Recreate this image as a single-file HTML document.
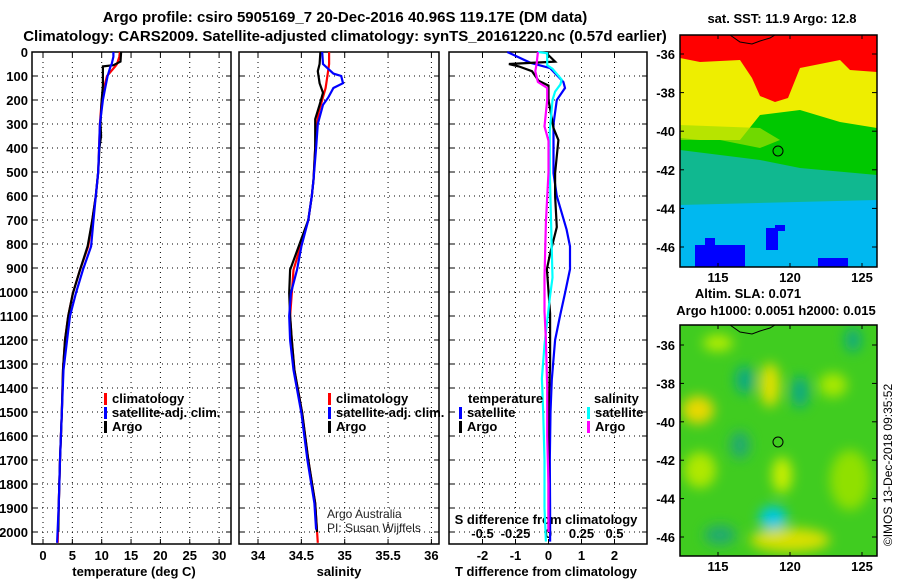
<!DOCTYPE html>
<html><head><meta charset="utf-8"><style>
body{margin:0;background:#fff;}
svg text{font-family:"Liberation Sans",Arial,sans-serif;}
.t{font-weight:bold;font-size:13px;fill:#000;}
.ti{font-weight:bold;font-size:15px;fill:#000;}
</style></head><body>
<svg id="c" width="900" height="580" viewBox="0 0 900 580" xmlns="http://www.w3.org/2000/svg">
<defs>
<filter id="bl" x="-50%" y="-50%" width="200%" height="200%"><feGaussianBlur stdDeviation="6"/></filter>
<clipPath id="cm1"><rect x="680" y="35" width="197" height="232"/></clipPath>
<clipPath id="cm2"><rect x="680" y="325" width="197" height="231"/></clipPath>
</defs>
<text class="ti" x="345" y="22" text-anchor="middle">Argo profile: csiro 5905169_7 20-Dec-2016 40.96S 119.17E (DM data)</text>
<text class="ti" x="345" y="41" text-anchor="middle">Climatology: CARS2009. Satellite-adjusted climatology: synTS_20161220.nc (0.57d earlier)</text>

<!-- top map -->
<g clip-path="url(#cm1)">
<rect x="680" y="35" width="197" height="232" fill="#00b8f0"/>
<polygon points="680,150 877,140 877,200 680,205" fill="#10b890"/>
<polygon points="680,110 877,105 877,175 800,168 760,160 680,150" fill="#00c800"/>
<polygon points="680,35 877,35 877,128 840,122 800,110 760,115 740,140 700,140 680,138" fill="#eeee00"/>
<polygon points="680,35 877,35 877,72 850,70 840,60 800,68 788,98 775,102 760,96 752,78 740,60 700,62 680,58" fill="#ff0000"/>
<polygon points="680,125 760,128 780,140 760,148 720,140 680,140" fill="#a0e000" opacity="0.7"/>
<rect x="695" y="245" width="50" height="22" fill="#0000ff"/>
<rect x="705" y="238" width="10" height="8" fill="#0000ff"/>
<rect x="766" y="228" width="12" height="22" fill="#0000ff"/>
<rect x="775" y="225" width="10" height="6" fill="#0000ff"/>
<rect x="818" y="258" width="30" height="9" fill="#0000ff"/>
<polyline points="730,35 740,42 752,44 760,41 770,38 775,35" fill="none" stroke="#000" stroke-width="1"/>
<circle cx="778" cy="151" r="5" fill="none" stroke="#000" stroke-width="1"/>
</g>
<rect x="680" y="35" width="197" height="232" fill="none" stroke="#000" stroke-width="1.5"/>

<!-- bottom map -->
<g clip-path="url(#cm2)">
<rect x="680" y="325" width="197" height="231" fill="#40cc20"/>
<g filter="url(#bl)">
<ellipse cx="770" cy="385" rx="10" ry="22" fill="#e0e000"/>
<ellipse cx="698" cy="410" rx="16" ry="14" fill="#e8d800"/>
<ellipse cx="718" cy="343" rx="15" ry="8" fill="#b8ee00"/>
<ellipse cx="833" cy="385" rx="14" ry="12" fill="#a8e800"/>
<ellipse cx="782" cy="475" rx="10" ry="18" fill="#c8ee00"/>
<ellipse cx="700" cy="470" rx="16" ry="18" fill="#b0e800"/>
<ellipse cx="790" cy="540" rx="40" ry="12" fill="#d8e000"/>
<ellipse cx="850" cy="480" rx="20" ry="30" fill="#90e000"/>
<ellipse cx="745" cy="380" rx="10" ry="14" fill="#10aa80"/>
<ellipse cx="800" cy="392" rx="9" ry="16" fill="#10aa80"/>
<ellipse cx="853" cy="340" rx="8" ry="12" fill="#10aa80"/>
<ellipse cx="773" cy="518" rx="14" ry="12" fill="#00c8e0"/>
<ellipse cx="740" cy="445" rx="10" ry="14" fill="#20aa70"/>
<ellipse cx="720" cy="535" rx="16" ry="10" fill="#20aa70"/>
</g>
<polyline points="730,325 740,332 752,334 760,331 770,328 775,325" fill="none" stroke="#000" stroke-width="1"/>
<circle cx="778" cy="442" r="5" fill="none" stroke="#000" stroke-width="1"/>
</g>
<rect x="680" y="325" width="197" height="231" fill="none" stroke="#000" stroke-width="1.5"/>

<text class="t" x="782" y="23" text-anchor="middle">sat. SST: 11.9 Argo: 12.8</text>
<text class="t" x="748" y="298" text-anchor="middle">Altim. SLA: 0.071</text>
<text class="t" x="776" y="315" text-anchor="middle">Argo h1000: 0.0051 h2000: 0.015</text>
<text x="892" y="465" font-size="12" text-anchor="middle" transform="rotate(-90 892 465)">©IMOS 13-Dec-2018 09:35:52</text>
<g id="dyn"></g>
</svg>
<script>
const tickDepths=[0,100,200,300,400,500,600,700,800,900,1000,1100,1200,1300,1400,1500,1600,1700,1800,1900,2000];
const tTicks=[0,5,10,15,20,25,30];
const sTicks=[34,34.5,35,35.5,36];
const sTickLabels=["34","34.5","35","35.5","36"];
const dTTicks=[-2,-1,0,1,2];
const dSTicks=[-0.5,-0.25,0,0.25,0.5];
const dSTickLabels=["-0.5","-0.25","0","0.25","0.5"];
const latTicks=[-36,-38,-40,-42,-44,-46];
const lonTicks=[115,120,125];

const tClimDepth=[0,20,50,60,100,150,200,300,400,500,600,700,810,908,1005,1100,1200,1325,1505,1700,1880,2045];
const tClim=[13.1,13.0,12.6,12.3,10.9,10.4,10.0,9.7,9.55,9.4,9.0,8.4,7.7,6.3,5.1,4.3,3.75,3.4,3.2,2.9,2.7,2.5];
const tSat=[12.0,12.0,11.7,11.5,11.0,10.6,10.2,9.7,9.55,9.4,9.0,8.6,8.2,6.8,5.6,4.6,4.1,3.5,3.2,2.9,2.7,2.4];
const tArgoDepth=[0,40,55,60,100,140,200,300,350,400,500,600,700,810,908,1005,1100,1200,1325,1505,1700,1880,2000];
const tArgo=[13.3,13.2,12.0,10.2,10.2,10.2,10.0,9.8,9.9,9.6,9.4,9.0,8.4,7.6,6.3,5.1,4.3,3.75,3.4,3.2,2.9,2.7,2.6];

const sClimDepth=[0,50,100,150,200,250,300,400,533,600,700,810,908,1005,1100,1200,1325,1505,1700,1880,2045];
const sClim=[34.82,34.82,34.80,34.78,34.74,34.70,34.68,34.66,34.64,34.62,34.58,34.49,34.41,34.39,34.37,34.39,34.42,34.51,34.58,34.66,34.69];
const sSatDepth=[0,50,90,100,130,150,190,220,300,400,533,600,700,810,908,1005,1100,1200,1325,1505,1700,1880,1990];
const sSat=[34.74,34.75,34.87,34.96,34.98,34.87,34.81,34.75,34.69,34.67,34.64,34.62,34.58,34.50,34.45,34.38,34.36,34.37,34.41,34.50,34.57,34.65,34.67];
const sArgoDepth=[0,50,80,130,170,220,280,320,400,533,600,700,810,908,1005,1100,1200,1325,1505,1700,1880,2000];
const sArgo=[34.72,34.71,34.69,34.71,34.75,34.71,34.66,34.66,34.66,34.64,34.62,34.58,34.47,34.37,34.36,34.37,34.39,34.42,34.51,34.58,34.66,34.68];

const dTSatDepth=[0,45,67,125,150,200,300,505,600,740,810,905,1005,1100,1200,1365,1500,1700,1900,2040];
const dTSat=[-1.25,-0.55,0.05,0.45,0.5,0.25,0.15,0.15,0.25,0.55,0.65,0.65,0.5,0.35,0.2,0.1,0.06,0.04,0.05,0.05];
const dTArgoDepth=[0,40,50,60,80,120,140,200,317,367,505,600,730,840,905,1090,1300,1500,1700,1900,2000];
const dTArgo=[-0.1,0.2,-1.2,-0.9,-0.5,-0.3,0,0,0.15,0.3,0.2,0.2,0.25,0.05,-0.05,0.05,0.05,0.0,0.0,0.0,0.0];
const dSSatDepth=[0,5,55,70,115,135,165,200,330,500,940,1025,1220,1360,1500,1700,1900,2040];
const dSSat=[-0.08,-0.01,-0.01,0.03,0.1,0.09,0.05,0.03,0.01,0.01,0.03,0.01,-0.03,-0.05,-0.04,-0.03,-0.03,-0.02];
const dSArgoDepth=[0,50,80,125,150,200,310,370,500,710,940,1080,1200,1400,1600,1800,2000];
const dSArgo=[-0.08,-0.09,-0.1,-0.08,-0.01,-0.01,-0.03,0,0,-0.02,-0.03,-0.03,-0.02,-0.01,-0.01,0,0];

const NS="http://www.w3.org/2000/svg";
const root=document.getElementById('dyn');
const TOP=52,BOT=544;
function yD(d){return TOP+0.24*d;}
function xT(v){return 43+5.87*v;}
function xS(v){return 258+86.7*(v-34);}
function xDT(v){return 548.5+33*v;}
function xDS(v){return 548.5+132*v;}
function mk(tag,attrs,parent){const e=document.createElementNS(NS,tag);for(const k in attrs)e.setAttribute(k,attrs[k]);(parent||root).appendChild(e);return e;}
function txt(x,y,s,anchor,cls){const e=mk('text',{x:x,y:y,'text-anchor':anchor||'start'});e.setAttribute('class',cls||'t');e.textContent=s;return e;}

const panels=[{x0:32,x1:231,xf:xT,ticks:tTicks,labels:tTicks.map(String),name:'temperature'},
{x0:239,x1:439,xf:xS,ticks:sTicks,labels:sTickLabels,name:'salinity'},
{x0:449,x1:647,xf:xDT,ticks:dTTicks,labels:dTTicks.map(String),name:'difference'}];

panels.forEach((p,i)=>{
  const g=mk('g',{});
  
  
  tickDepths.forEach(d=>{
    const l=mk('line',{x1:p.x0,x2:p.x1,y1:yD(d),y2:yD(d),stroke:'#000','stroke-width':1,'stroke-dasharray':'1,4'},g);
    
    
    mk('line',{x1:p.x0,x2:p.x0+5,y1:yD(d),y2:yD(d),stroke:'#000'},g);
    mk('line',{x1:p.x1-5,x2:p.x1,y1:yD(d),y2:yD(d),stroke:'#000'},g);
  });
  p.ticks.forEach((t,j)=>{
    const x=p.xf(t);
    const l=mk('line',{x1:x,x2:x,y1:TOP,y2:BOT,stroke:'#000','stroke-width':1,'stroke-dasharray':'1,4'},g);
    
    
    mk('line',{x1:x,x2:x,y1:BOT-5,y2:BOT,stroke:'#000'},g);
    mk('line',{x1:x,x2:x,y1:TOP,y2:TOP+5,stroke:'#000'},g);
    const tl=txt(x,560,p.labels[j],'middle');
    
    
  });
  const r=mk('rect',{x:p.x0,y:TOP,width:p.x1-p.x0,height:BOT-TOP,fill:'none',stroke:'#000','stroke-width':1.5},g);
  
  
});
tickDepths.forEach(d=>{
  const e=txt(28,yD(d)+5,String(d),'end');
  
  
});
dSTicks.forEach((s,j)=>{
  const e=txt(xDS(s),538,dSTickLabels[j],'middle');
  
  
});
let e;
e=txt(546,524,'S difference from climatology','middle');


e=txt(134,576,'temperature (deg C)','middle');


e=txt(339,576,'salinity','middle');


e=txt(546,576,'T difference from climatology','middle');



function series(depths,vals,xf,color,name){
  const pts=depths.map((d,i)=>xf(vals[i]).toFixed(1)+','+yD(d).toFixed(1)).join(' ');
  const pl=mk('polyline',{points:pts,fill:'none',stroke:color,'stroke-width':2.2,'stroke-linejoin':'miter'});
  
  
}
series(tClimDepth,tClim,xT,'#ff0000','temp-climatology-line');
series(tArgoDepth,tArgo,xT,'#000000','temp-argo-line');
series(tClimDepth,tSat,xT,'#0000ff','temp-satellite-line');
series(sClimDepth,sClim,xS,'#ff0000','sal-climatology-line');
series(sArgoDepth,sArgo,xS,'#000000','sal-argo-line');
series(sSatDepth,sSat,xS,'#0000ff','sal-satellite-line');
series(dTSatDepth,dTSat,xDT,'#0000ff','tdiff-satellite-line');
series(dTArgoDepth,dTArgo,xDT,'#000000','tdiff-argo-line');
series(dSSatDepth,dSSat,xDS,'#00ffff','sdiff-satellite-line');
series(dSArgoDepth,dSArgo,xDS,'#ff00ff','sdiff-argo-line');

function legend(x,y,color,label,name){
  const m=mk('rect',{x:x,y:y-10,width:3,height:12,fill:color});
  
  
  const t=txt(x+8,y,label,'start');
  
  
}
legend(104,403,'#ff0000','climatology','legend-climatology');
legend(104,417,'#0000ff','satellite-adj. clim.','legend-satellite');
legend(104,431,'#000000','Argo','legend-argo');
legend(328,403,'#ff0000','climatology','legend2-climatology');
legend(328,417,'#0000ff','satellite-adj. clim.','legend2-satellite');
legend(328,431,'#000000','Argo','legend2-argo');
e=txt(468,403,'temperature','start');


legend(459,417,'#0000ff','satellite','legend-t-satellite');
legend(459,431,'#000000','Argo','legend-t-argo');
e=txt(594,403,'salinity','start');


legend(587,417,'#00ffff','satellite','legend-s-satellite');
legend(587,431,'#ff00ff','Argo','legend-s-argo');
e=mk('text',{x:327,y:518,'font-size':12,fill:'#222'});
e.textContent='Argo Australia';


e=mk('text',{x:327,y:532,'font-size':12,fill:'#222'});
e.textContent='PI: Susan Wijffels';



function latY1(l){return 54+(-36-l)*19.3;}
function latY2(l){return 345+(-36-l)*19.2;}
function lonX(l){return 718+(l-115)*14.4;}
latTicks.forEach(l=>{
  [latY1(l),latY2(l)].forEach(y=>{
    mk('line',{x1:872,x2:877,y1:y,y2:y,stroke:'#000'});
    mk('line',{x1:680,x2:684,y1:y,y2:y,stroke:'#000'});
    const t=txt(675,y+5,String(l),'end');
    
    
  });
});
lonTicks.forEach(l=>{
  const x=lonX(l);
  [[35,267],[325,556]].forEach(b=>{
    mk('line',{x1:x,x2:x,y1:b[0],y2:b[0]+4,stroke:'#000'});
    mk('line',{x1:x,x2:x,y1:b[1]-4,y2:b[1],stroke:'#000'});
    const t=txt(x,b[1]+15,String(l),'middle');
    
    
  });
});
</script>
</body></html>
